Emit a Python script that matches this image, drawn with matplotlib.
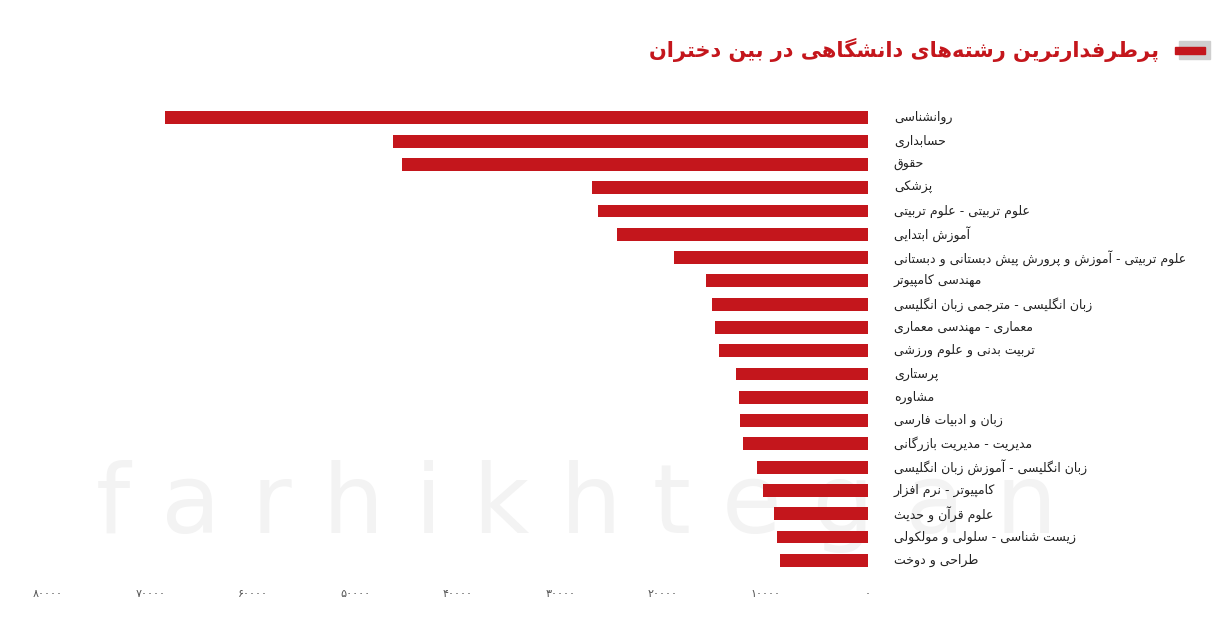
import unicodedata
import matplotlib
matplotlib.use("Agg")
import matplotlib.pyplot as plt
from matplotlib.transforms import blended_transform_factory
from matplotlib.patches import Rectangle

categories = ["روانشناسی", "حسابداری", "حقوق", "پزشکی", "علوم تربیتی - علوم تربیتی",
              "آموزش ابتدایی", "علوم تربیتی - آموزش و پرورش پیش دبستانی و دبستانی",
              "مهندسی کامپیوتر", "زبان انگلیسی - مترجمی زبان انگلیسی", "معماری - مهندسی معماری",
              "تربیت بدنی و علوم ورزشی", "پرستاری", "مشاوره", "زبان و ادبیات فارسی",
              "مدیریت - مدیریت بازرگانی", "زبان انگلیسی - آموزش زبان انگلیسی",
              "کامپیوتر - نرم افزار", "علوم قرآن و حدیث", "زیست شناسی - سلولی و مولکولی",
              "طراحی و دوخت"]
values = [68600, 46300, 45500, 26900, 26300, 24500, 18900, 15800, 15200, 14900,
          14500, 12900, 12600, 12500, 12200, 10800, 10200, 9200, 8900, 8600]
tick_vals = [0, 10000, 20000, 30000, 40000, 50000, 60000, 70000, 80000]
tick_labels = ["۰", "۱۰۰۰۰", "۲۰۰۰۰", "۳۰۰۰۰", "۴۰۰۰۰", "۵۰۰۰۰", "۶۰۰۰۰", "۷۰۰۰۰", "۸۰۰۰۰"]
title = "پرطرفدارترین رشته‌های دانشگاهی در بین دختران"

def _form(c, f):
    try:
        return unicodedata.lookup(unicodedata.name(c) + " " + f + " FORM")
    except Exception:
        return None

def _is_ar(c):
    return c is not None and '\u0600' <= c <= '\u06FF' and _form(c, "ISOLATED") is not None

def _dual(c):
    return _is_ar(c) and _form(c, "INITIAL") is not None

def shape(s):
    chars = list(s)
    out = []
    n = len(chars)
    for i, c in enumerate(chars):
        if c == '\u200c':
            continue
        if not _is_ar(c):
            out.append(c)
            continue
        prev = chars[i - 1] if i > 0 else None
        nxt = chars[i + 1] if i < n - 1 else None
        cp = _dual(prev)
        cn = _dual(c) and _is_ar(nxt)
        if cp and cn:
            f = _form(c, "MEDIAL")
        elif cp:
            f = _form(c, "FINAL")
        elif cn:
            f = _form(c, "INITIAL")
        else:
            f = _form(c, "ISOLATED")
        out.append(f or c)
    return ''.join(reversed(out))

plt.rcParams['font.family'] = ['DejaVu Sans']
fig = plt.figure(figsize=(12.26, 6.25), dpi=100)
ax = fig.add_axes([0.039, 0.085, 0.669, 0.745])
ax.set_zorder(2)

# watermark
fig.text(0.47, 0.19, "f a r h i k h t e g a n", fontsize=70, color="#f3f3f3",
         ha="center", va="center", zorder=0)

red = "#c4161c"
y = list(range(len(categories)))
ax.barh(y, values, height=0.55, color=red, zorder=2)
ax.set_xlim(80000, 0)
ax.set_ylim(len(categories) - 0.5, -0.5)
ax.set_xticks(tick_vals)
ax.set_xticklabels(tick_labels, fontsize=8, color="#555555")
ax.set_yticks([])
ax.tick_params(axis='x', length=0, pad=12)
for s in ax.spines.values():
    s.set_visible(False)
ax.patch.set_alpha(0)

tr = blended_transform_factory(fig.transFigure, ax.transData)
for yi, cat in zip(y, categories):
    ax.text(0.729, yi, shape(cat), transform=tr, ha="left", va="center",
            fontsize=9, color="#222222")

fig.text(0.945, 0.92, shape(title), ha="right", va="center", fontsize=15,
         fontweight="bold", color=red)
fig.patches.append(Rectangle((0.962, 0.905), 0.025, 0.03, transform=fig.transFigure,
                             color="#cfcfcf", zorder=1))
fig.patches.append(Rectangle((0.958, 0.913), 0.025, 0.012, transform=fig.transFigure,
                             color=red, zorder=2))

fig.savefig("out.png", dpi=100)
